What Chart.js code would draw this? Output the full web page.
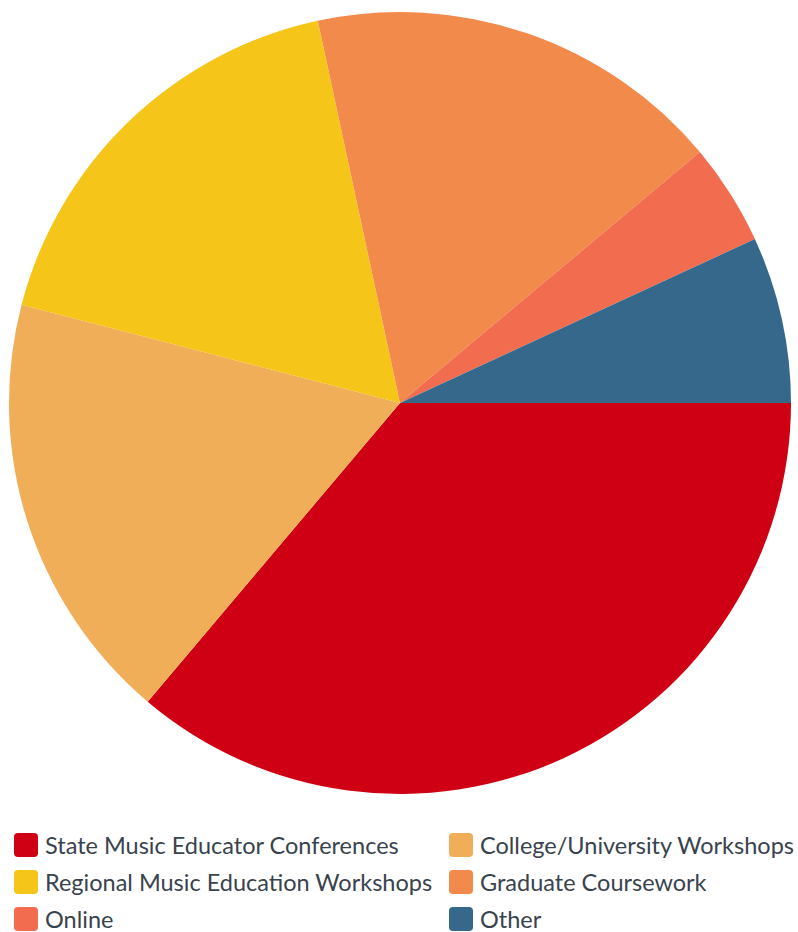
<!DOCTYPE html>
<html>
<head>
<meta charset="utf-8">
<script src="https://cdn.jsdelivr.net/npm/chart.js@4"></script>
<style>
  html, body { margin: 0; padding: 0; background: #fff; }
  #wrap { position: relative; width: 798px; height: 932px; overflow: hidden; }
  #chartBox { position: absolute; left: 0; top: 0; width: 798px; height: 806px; }
  #legend {
    position: absolute; left: 14px; top: 833px;
    display: grid; grid-template-columns: 435px 340px; row-gap: 13px;
    font-family: Lato, "Open Sans", sans-serif; font-size: 23.5px; color: #39434d;
  }
  .item { display: flex; align-items: center; height: 24px; white-space: nowrap; }
  .swatch { width: 24px; height: 24px; border-radius: 4px; margin-right: 7px; flex: none; }
</style>
</head>
<body>
<div id="wrap">
  <div id="chartBox"><canvas id="pie"></canvas></div>
  <div id="legend"></div>
</div>
<script>
const labels = [
  "State Music Educator Conferences",
  "College/University Workshops",
  "Regional Music Education Workshops",
  "Graduate Coursework",
  "Online",
  "Other",
];
const values = [36.2, 17.9, 17.6, 17.3, 4.2, 6.9];
const colors = ["#cf0014", "#f0ae58", "#f5c51a", "#f28a4c", "#f26c4f", "#36688c"];

const ctx = document.getElementById("pie").getContext("2d");

new Chart(ctx, {
  type: "pie",
  data: {
    labels: labels,
    datasets: [
      {
        data: values,
        backgroundColor: colors,
        borderWidth: 0,
        hoverOffset: 0,
      },
    ],
  },
  options: {
    responsive: true,
    maintainAspectRatio: false,
    animation: false,
    rotation: 90, // first slice starts at 3 o'clock
    layout: { padding: { left: 9, right: 7, top: 12, bottom: 12 } },
    plugins: {
      legend: { display: false },
      tooltip: { enabled: false },
    },
  },
});

// two-column legend, row by row
const legend = document.getElementById("legend");
labels.forEach((name, i) => {
  const item = document.createElement("div");
  item.className = "item";
  const sw = document.createElement("span");
  sw.className = "swatch";
  sw.style.background = colors[i];
  const txt = document.createElement("span");
  txt.textContent = name;
  item.appendChild(sw);
  item.appendChild(txt);
  legend.appendChild(item);
});
</script>
</body>
</html>
